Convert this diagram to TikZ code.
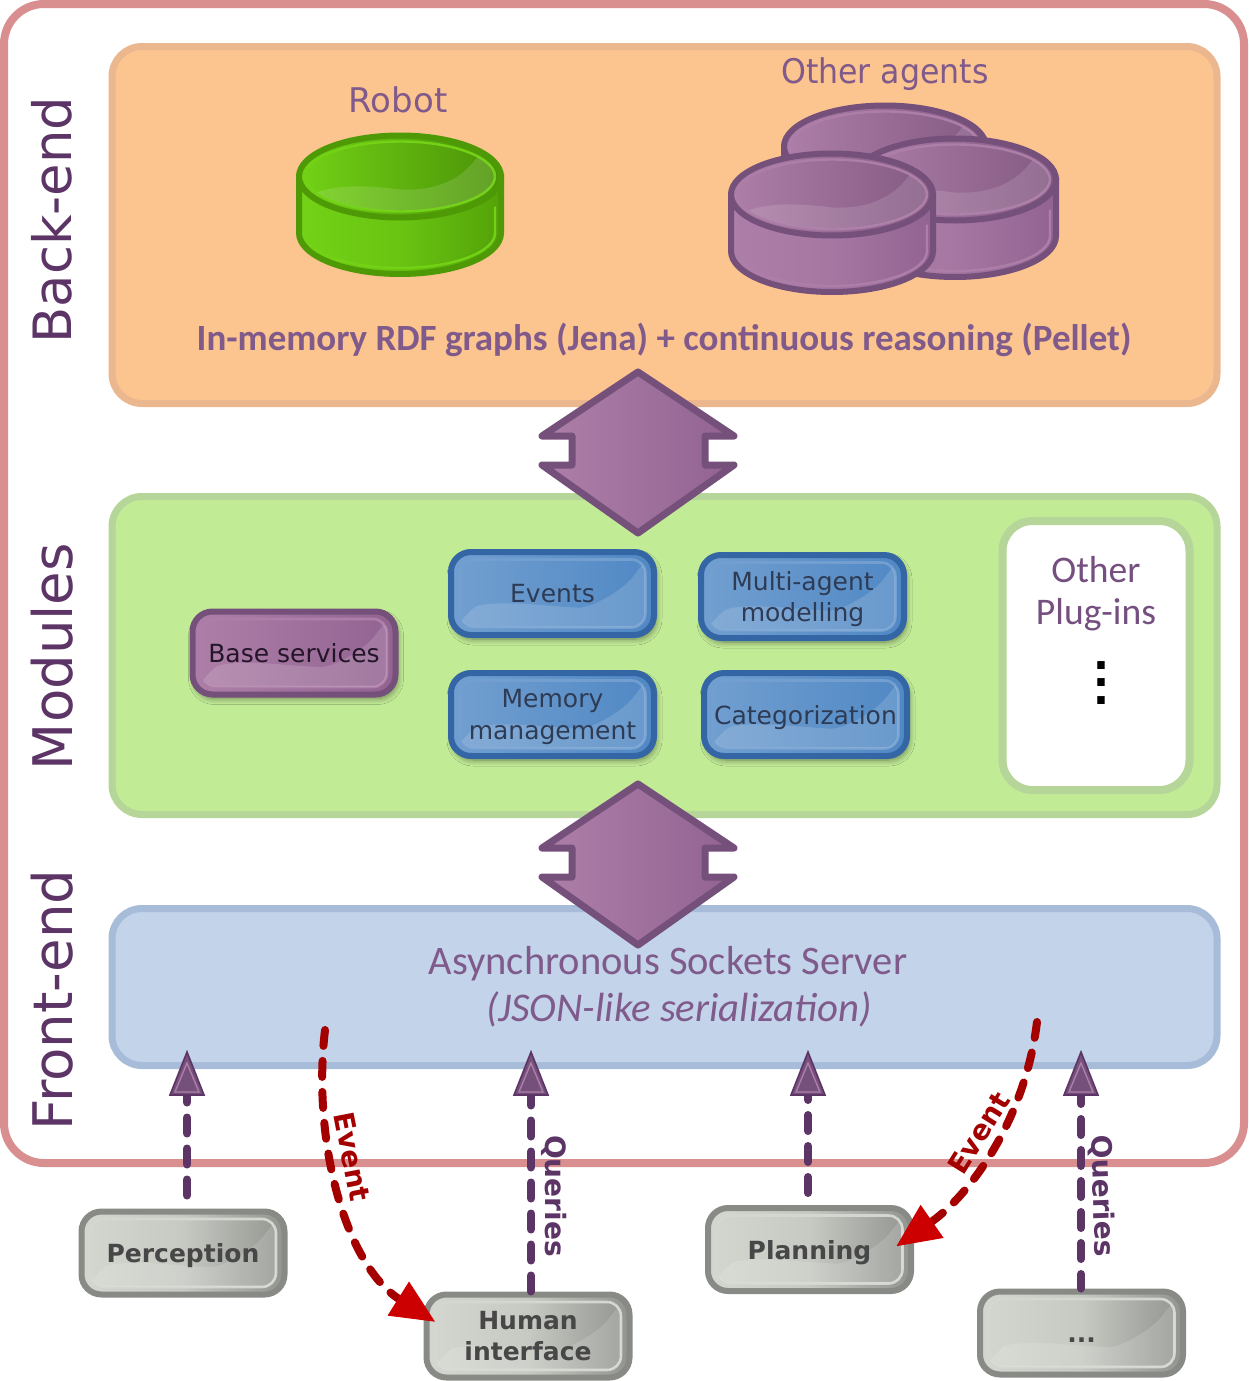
\documentclass[tikz,border=0pt]{standalone}
\usepackage{fontspec}
\setmainfont{DejaVu Sans}
\newfontfamily\panelfont{Carlito}
\usetikzlibrary{arrows.meta,calc,shadows.blur}

\definecolor{plumdark}{HTML}{5C3566}
\definecolor{plummid}{HTML}{75507B}
\definecolor{plumlight}{HTML}{AD7FA8}
\definecolor{plumright}{HTML}{926391}
\definecolor{plumtext}{HTML}{7F5A8B}
\definecolor{bluedark}{HTML}{3465A4}
\definecolor{bluelight}{HTML}{729FD0}
\definecolor{blueright}{HTML}{5088C4}
\definecolor{bluetext}{HTML}{2E3B55}
\definecolor{grayedge}{HTML}{888A85}
\definecolor{graylight}{HTML}{D3D7CF}
\definecolor{grayright}{HTML}{92948F}
\definecolor{greenedge}{HTML}{4E9A06}
\definecolor{greenlight}{HTML}{73D216}
\definecolor{reddark}{HTML}{A40000}
\definecolor{redtip}{HTML}{CC0000}
\definecolor{frameline}{HTML}{D98F8F}
\definecolor{orangeedge}{HTML}{EBB78F}
\definecolor{orangefill}{HTML}{FCC48E}
\definecolor{greenpaneledge}{HTML}{B6D598}
\definecolor{greenpanelfill}{HTML}{C2EB96}
\definecolor{bluepaneledge}{HTML}{A7BCD8}
\definecolor{bluepanelfill}{HTML}{C2D3EA}

\tikzset{
  panel/.style n args={3}{draw=#1,fill=#2,line width=3.5pt,rounded corners=15pt,minimum width=552.5pt,minimum height=#3,inner sep=0pt},
  glossbox/.style n args={4}{draw=#1,line width=3pt,rounded corners=10pt,left color=#2,right color=#3,
    minimum width=101.5pt,minimum height=41.5pt,inner sep=0pt,align=center,text depth=0pt,font=\fontsize{12.5}{15.8}\selectfont,
    path picture={
      \coordinate (gc) at (path picture bounding box.center);
      \draw[#4,line width=1.3pt,rounded corners=7pt] ($(gc)+(-93,-34)$) rectangle ($(gc)+(93,34)$);
      \clip[rounded corners=7pt] ($(gc)+(-93,-34)$) rectangle ($(gc)+(93,34)$);
      \fill[white,opacity=.14] ($(gc)+(-94,26)$) .. controls ($(gc)+(-70,8)$) and ($(gc)+(-30,10)$) .. ($(gc)+(5,13)$) .. controls ($(gc)+(40,15)$) and ($(gc)+(72,-5)$) .. ($(gc)+(92,-33)$) -- ($(gc)+(100,-40)$) -- ($(gc)+(100,40)$) -- ($(gc)+(-100,40)$) -- cycle;
    }},
  softshadow/.style={blur shadow={shadow xshift=1pt,shadow yshift=-2pt,shadow blur radius=3pt,shadow blur steps=8,shadow opacity=45}},
  bluebox/.style={softshadow,glossbox={bluedark}{bluelight}{blueright}{bluelight},text=bluetext},
  plumbox/.style={softshadow,glossbox={plummid}{plumlight}{plumright}{plumlight},text=plumdark!40!black},
  graybox/.style={glossbox={grayedge}{graylight}{grayright}{graylight},middle color=graylight!80!grayright,text=black!72,font=\fontsize{12.5}{15.6}\selectfont\bfseries},
  sidelabel/.style={text=plumdark,rotate=90,font=\fontsize{27.3}{27.3}\selectfont},
  agentlabel/.style={text=plumtext,font=\fontsize{17}{17}\selectfont},
  querydash/.style={draw=plumdark,line width=4pt,line cap=round,dash pattern=on 8pt off 7.5pt},
  eventdash/.style={draw=reddark,line width=4pt,line cap=round,dash pattern=on 8pt off 7.5pt,
    -{Triangle[length=22pt,width=19pt,fill=redtip,color=redtip,line cap=butt]}},
  querytext/.style={text=plumdark,font=\fontsize{14}{14}\selectfont\bfseries},
  eventtext/.style={text=reddark,font=\fontsize{14}{14}\selectfont\bfseries},
  querytip/.pic={
    \draw[plumdark,fill=plummid,line width=.8pt] (0,-43)--(17,0)--(-17,0)--cycle;
    \draw[plumlight,line width=.7pt] (0,-32)--(12,-3)--(-12,-3)--cycle;
  }
}

% x y edge left right rim
\newcommand{\drawdisk}[6]{
  \begin{scope}[shift={(#1,#2)}]
    \draw[#3,line width=3pt,left color=#4,right color=#5,middle color=#4!70!#5] (-101,0) -- (-101,56.5) arc[start angle=180,end angle=0,x radius=101,y radius=41] -- (101,0) -- cycle;
    \draw[#6,line width=1.2pt] (95,30) -- (95,56.5) arc[start angle=0,end angle=180,x radius=95,y radius=35];
    \draw[#3,line width=3pt,left color=#4,right color=#5!90!black] (0,0) ellipse[x radius=101,y radius=41];
    \draw[#6,line width=1.2pt] (0,0) ellipse[x radius=95,y radius=35];
    \begin{scope}
      \clip (0,0) ellipse[x radius=94,y radius=34];
      \fill[white,opacity=.13] (-92,20) .. controls (-70,8) and (-40,8) .. (0,13) .. controls (40,15) and (65,0) .. (79,-22) -- (110,-22) -- (110,50) -- (-110,50) -- cycle;
    \end{scope}
  \end{scope}
}

\begin{document}
\begin{tikzpicture}[x=0.5pt,y=-0.5pt]

\useasboundingbox (0,0) rectangle (1248,1381);

\draw[frameline,line width=4pt,fill=white,rounded corners=20pt] (4,4) rectangle (1244,1163);

\node[panel={orangeedge}{orangefill}{178.5pt}] (backend) at (664.5,225) {};
\node[panel={greenpaneledge}{greenpanelfill}{159pt}] (modules) at (664.5,655.5) {};
\node[panel={bluepaneledge}{bluepanelfill}{78.5pt}] (frontend) at (664.5,987) {};
\node[draw=greenpaneledge,fill=white,line width=4pt,rounded corners=15pt,minimum width=93.5pt,minimum height=134.5pt,inner sep=0pt] (plugins) at (1096,655.5) {};

\node[sidelabel,font=\fontsize{26.4}{26.4}\selectfont] (backlabel) at (52,220) {Back-end};
\node[sidelabel] (moduleslabel) at (52,656.5) {Modules};
\node[sidelabel] (frontlabel) at (52,1000) {Front-end};

\node[agentlabel] (robotlabel) at (398,100) {Robot};
\node[agentlabel,xscale=.93] (agentslabel) at (885,74) {Other agents};
\drawdisk{400}{176.5}{greenedge}{greenlight}{greenedge!85!greenlight}{greenlight}
\drawdisk{885}{146.5}{plummid}{plumlight}{plumright}{plumlight}
\drawdisk{955}{179.5}{plummid}{plumlight}{plumright}{plumlight}
\drawdisk{832}{194.5}{plummid}{plumlight}{plumright}{plumlight}
\node[text=plumtext,font=\panelfont\bfseries\fontsize{18.5}{18.5}\selectfont] (graphslabel) at (664,340) {In-memory RDF graphs (Jena) + continuous reasoning (Pellet)};

\foreach \yy in {0,412}
  \draw[plummid,line width=3.5pt,line join=round,left color=plumlight,right color=plumright,shift={(0,\yy)}]
    (638,372) -- (734,436) -- (705,436) -- (705,465) -- (734,465) -- (638,533) -- (542,465) -- (572,465) -- (572,436) -- (542,436) -- cycle;

\node[plumbox] (baseservices) at (294,653) {Base services};
\node[bluebox] (events) at (552.5,593.5) {Events};
\node[bluebox] (multiagent) at (802.5,596.5) {Multi-agent\\modelling};
\node[bluebox] (memory) at (552.5,714.5) {Memory\\management};
\node[bluebox] (categorization) at (805.5,714.5) {Categorization};

\node[text=plumtext!70!plumdark,font=\panelfont\fontsize{18.8}{21}\selectfont,align=center] (pluginslabel) at (1096,594) {Other\\Plug-ins};
\node[font=\bfseries\fontsize{21}{8.8}\selectfont,align=center,inner sep=0pt] (pluginsdots) at (1101,683) {.\\.\\.};

\node[text=plumtext,font=\panelfont\fontsize{20.25}{20.25}\selectfont] (serverlabel) at (668,964) {Asynchronous Sockets Server};
\node[text=plumtext,font=\panelfont\itshape\fontsize{20.4}{20.4}\selectfont] (jsonlabel) at (679,1009) {(JSON-like serialization)};

\coordinate (tipperception) at (187,1095);
\coordinate (tiphuman) at (531,1095);
\coordinate (tipplanning) at (808,1095);
\coordinate (tipother) at (1081,1095);

\node[graybox] (perception) at (183,1253) {Perception};
\node[graybox] (human) at (528,1336) {Human\\interface};
\node[graybox] (planning) at (809.5,1249.5) {Planning};
\node[graybox,text height=9.3pt] (other) at (1081.5,1333) {...};

\draw[querydash,dash phase=9pt] (tipperception |- perception.north) -- (tipperception);
\draw[querydash] (tiphuman |- human.north) -- (tiphuman);
\draw[querydash,dash phase=9.5pt] (tipplanning |- planning.north) -- (tipplanning);
\draw[querydash,dash phase=.75pt] (tipother |- other.north) -- (tipother);

\pic at (tipperception) {querytip};
\pic at (tiphuman) {querytip};
\pic at (tipplanning) {querytip};
\pic at (tipother) {querytip};

\coordinate (eventleft) at (325,1030);
\coordinate (eventright) at (1037,1022);
\draw[eventdash] (eventleft) .. controls (312,1140) and (345,1265) .. ([shift={(12,-14)}]human.west);
\draw[eventdash] (eventright) .. controls (1025,1120) and (970,1195) .. ([shift={(-18,-3)}]planning.east);

\node[eventtext,rotate=-79] (eventleftlabel) at (352,1157) {Event};
\node[eventtext,rotate=58] (eventrightlabel) at (979,1133) {Event};
\node[querytext,rotate=-90] (queriesleft) at (554,1196) {Queries};
\node[querytext,rotate=-88] (queriesright) at (1102,1196) {Queries};

\end{tikzpicture}
\end{document}
